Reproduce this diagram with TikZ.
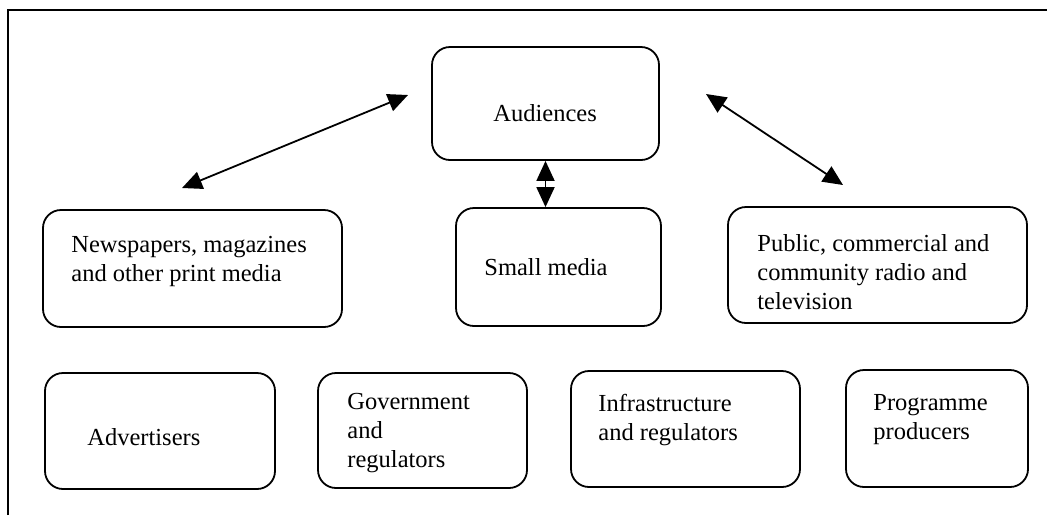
\documentclass[tikz,border=0pt]{standalone}
\usepackage{fontspec}
\setmainfont{Liberation Serif}
\usetikzlibrary{arrows.meta,fit}
\begin{document}
\begin{tikzpicture}[x=0.5pt,y=-0.5pt,
  box/.style={draw, line width=0.9pt, rounded corners=9pt, inner sep=0pt},
  txt/.style={font=\fontsize{12.25}{14.5}\selectfont, align=left, inner sep=0pt, anchor=west},
  dbl/.style={line width=0.9pt, {Triangle[length=10pt,width=9pt]}-{Triangle[length=10pt,width=9pt]}},
  frame/.style={line width=1pt}]
\useasboundingbox (0,0) rectangle (1047,515);
% frame
\draw[frame] (8,515) -- (8,10) -- (1047,10);
% boxes
\node[box, fit={(432,47) (659,160)}] (aud) {};
\node[box, fit={(43,210) (342,327)}] (news) {};
\node[box, fit={(456,208) (661,326)}] (small) {};
\node[box, fit={(728,207) (1027,323)}] (pub) {};
\node[box, fit={(45,373) (275,489)}] (adv) {};
\node[box, fit={(318,373) (527,488)}] (gov) {};
\node[box, fit={(571,371) (800,487)}] (infra) {};
\node[box, fit={(846,370) (1028,487)}] (prog) {};
% texts
\node[txt] (audt) at (493,113) {Audiences};
\node[txt] (newst) at (71,261) {Newspapers, magazines\\and other print media};
\node[txt] (smallt) at (484,267) {Small media};
\node[txt] (pubt) at (757,272) {Public, commercial and\\community radio and\\television};
\node[txt] (advt) at (87,437) {Advertisers};
\node[txt] (govt) at (347,433) {Government\\and\\regulators};
\node[txt] (infrat) at (598,420) {Infrastructure\\and regulators};
\node[txt] (progt) at (873,420) {Programme\\producers};
% arrows
\coordinate (la) at (408,95);
\coordinate (lb) at (182,188);
\coordinate (ra) at (706,94);
\coordinate (rb) at (843,185);
\draw[dbl] (lb) -- (la);
\draw[dbl] (ra) -- (rb);
\draw[dbl] (aud.south) -- (aud.south |- small.north);
\end{tikzpicture}
\end{document}
